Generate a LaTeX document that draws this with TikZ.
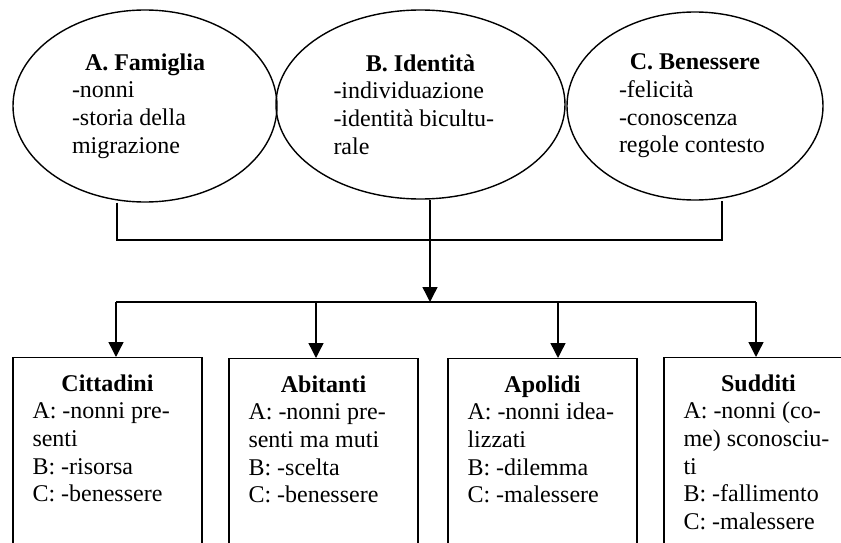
\documentclass[tikz,border=0pt]{standalone}
\usepackage{fontspec}
\setmainfont{Liberation Serif}
\usetikzlibrary{arrows.meta,shapes.geometric,positioning}

\tikzset{
  area/.style={draw, ellipse, line width=1.4pt, inner sep=0pt, text width=#1, align=flush left},
  kind/.style={draw, anchor=north, line width=1.4pt, text width=150pt, inner xsep=19.5pt, inner ysep=17pt, text depth=220pt, align=flush left},
  link/.style={line width=1.4pt},
  down/.style={line width=1.4pt, -{Triangle[length=15pt,width=15pt]}}
}

\begin{document}
\begin{tikzpicture}[x=1pt, y=-1pt, font=\fontsize{24}{27.6}\selectfont]
\useasboundingbox (0,0) rectangle (841,543);
\clip (0,0) rectangle (841,543);
\node[area=146pt, minimum width=264pt, minimum height=192pt] (fam) at (145,106) {{\centering\textbf{A. Famiglia}\par}-nonni\\-storia della\\migrazione};
\node[area=174pt, minimum width=289pt, minimum height=189pt] (ide) at (420.5,104.5) {{\centering\textbf{B. Identità}\par}-individuazione\\-identità bicultu-\\rale};
\node[area=152pt, minimum width=256pt, minimum height=188pt] (ben) at (695,106) {{\centering\textbf{C. Benessere}\par}-felicità\\-conoscenza\\regole contesto};
\node[kind] (cit) at (107.5,357) {{\centering\textbf{Cittadini}\par}A: -nonni pre-\\senti\\B: -risorsa\\C: -benessere};
\node[kind] (abi) at (323.5,358) {{\centering\textbf{Abitanti}\par}A: -nonni pre-\\senti ma muti\\B: -scelta\\C: -benessere};
\node[kind] (apo) at (542.5,358) {{\centering\textbf{Apolidi}\par}A: -nonni idea-\\lizzati\\B: -dilemma\\C: -malessere};
\node[kind] (sud) at (758.5,357) {{\centering\textbf{Sudditi}\par}A: -nonni (co-\\me) sconosciu-\\ti\\B: -fallimento\\C: -malessere};
\coordinate (famfoot) at (117,240);
\coordinate (benfoot) at (722,240);
\coordinate (hub) at (430,302);
\draw[link] (fam.south -| famfoot) -- (famfoot) -- (benfoot) -- (ben.south -| benfoot);
\draw[down] (ide.south -| hub) -- (hub);
\foreach \k/\x in {cit/116, abi/316, apo/558, sud/756} {
  \coordinate (top\k) at (\x,302);
  \draw[down] (top\k) -- (\k.north -| top\k);
}
\draw[link] (topcit) -- (topsud);
\end{tikzpicture}
\end{document}
